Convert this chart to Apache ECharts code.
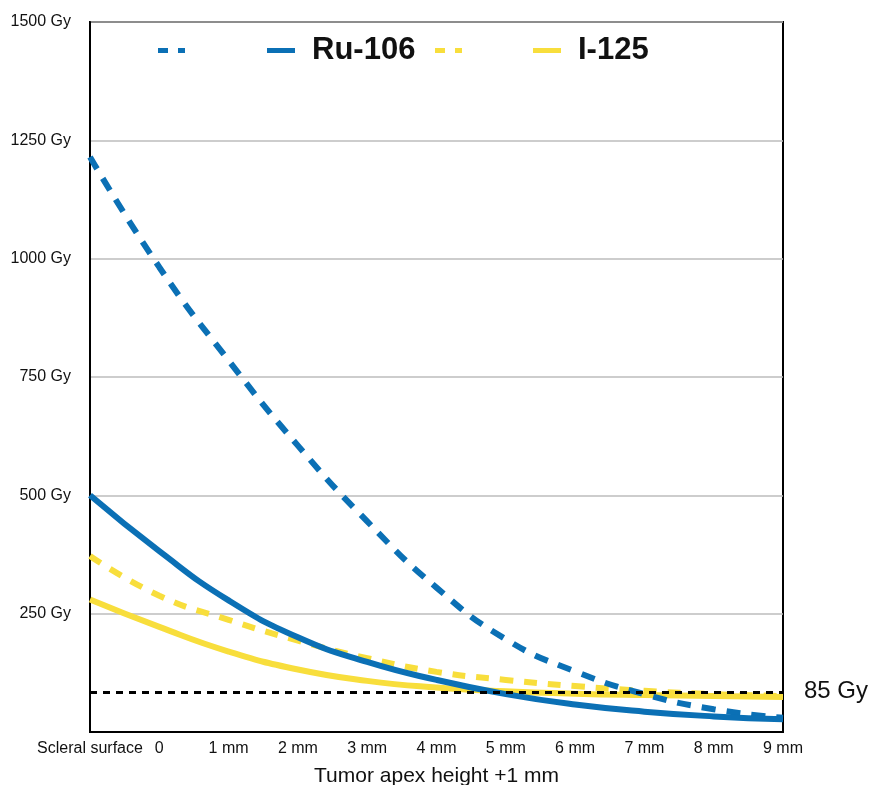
<!DOCTYPE html>
<html>
<head>
<meta charset="utf-8">
<script src="https://cdn.jsdelivr.net/npm/echarts@6/dist/echarts.min.js"></script>
<style>
  html, body { margin: 0; padding: 0; background: #fff; overflow: hidden; }
  #chart { width: 870px; height: 785px; }
</style>
</head>
<body>
<div id="chart"></div>
<script>
// ---- data ----
var xPositions = [0, 1, 2, 3, 4, 5, 6, 7, 8, 9, 10];
var xTickLabels = ['Scleral surface', '0', '1 mm', '2 mm', '3 mm', '4 mm', '5 mm', '6 mm', '7 mm', '8 mm', '9 mm'];
var ruDashed = [1215, 982, 785, 605, 445, 305, 196, 128, 80, 48, 30];
var ruSolid = [500, 382, 278, 200, 148, 110, 80, 58, 43, 33, 27];
var iDashed = [372, 288, 237, 193, 156, 127, 110, 97, 87, 80, 76];
var iSolid = [280, 222, 170, 132, 108, 94, 86, 81, 78, 76, 74];
var thresholdValue = 85;
var thresholdLabel = '85 Gy';
var seriesNames = ['Ru-106 dashed', 'Ru-106', 'I-125 dashed', 'I-125'];
var yUnit = ' Gy';
var xAxisTitle = 'Tumor apex height +1 mm';

function pairs(vals) { return xPositions.map(function (x, i) { return [x, vals[i]]; }); }

var BLUE = '#0B70B5';
var YELLOW = '#F8DE3C';
var FONT = '"Liberation Sans", Arial, Helvetica, sans-serif';
var dashIcon = 'path://M0,0H10V5H0Z M20,0H27V5H20Z';

var chart = echarts.init(document.getElementById('chart'), null, { renderer: 'canvas' });

function legendItem(name, left, icon, w, textVisible) {
  return {
    left: left, top: 35, padding: 0, orient: 'horizontal',
    data: [name], icon: icon, itemWidth: w, itemHeight: 5,
    selectedMode: false,
    formatter: function (n) { return textVisible ? n : ' '; },
    textStyle: { fontFamily: FONT, fontSize: 31, fontWeight: 'bold', color: '#111', padding: [0, 0, 0, 12] }
  };
}

var option = {
  backgroundColor: '#fff',
  animation: false,
  legend: [
    legendItem(seriesNames[0], 158, dashIcon, 27, false),
    legendItem(seriesNames[1], 267, 'rect', 28, true),
    legendItem(seriesNames[2], 435, dashIcon, 27, false),
    legendItem(seriesNames[3], 533, 'rect', 28, true)
  ],
  grid: { left: 90, right: 87, top: 22, bottom: 53, show: true, borderColor: '#000', borderWidth: 2,
          containLabel: false, outerBoundsMode: 'none' },
  xAxis: {
    type: 'value', min: 0, max: 10, interval: 1,
    name: xAxisTitle, nameLocation: 'middle', nameGap: 34,
    nameTextStyle: { fontFamily: FONT, fontSize: 21, color: '#111' },
    axisLine: { show: true, lineStyle: { color: '#000', width: 2 } },
    axisTick: { show: false },
    splitLine: { show: false },
    axisLabel: {
      fontFamily: FONT, fontSize: 16, color: '#111', margin: 9,
      formatter: function (v) { return xTickLabels[Math.round(v)]; }
    }
  },
  yAxis: {
    type: 'value', min: 0, max: 1500, interval: 250,
    axisLine: { show: true, lineStyle: { color: '#000', width: 2 } },
    axisTick: { show: false },
    splitLine: { show: true, lineStyle: { color: '#bdbdbd', width: 1.5 } },
    axisLabel: {
      fontFamily: FONT, fontSize: 16, color: '#111', margin: 19,
      formatter: function (v) { return v === 0 ? '' : v + yUnit; }
    }
  },
  series: [
    { name: seriesNames[0], type: 'line', data: pairs(ruDashed), smooth: true, showSymbol: false, symbol: 'none', color: BLUE,
      lineStyle: { color: BLUE, width: 6, type: [14, 11], cap: 'butt' }, z: 3 },
    { name: seriesNames[1], type: 'line', data: pairs(ruSolid), smooth: true, showSymbol: false, symbol: 'none', color: BLUE,
      lineStyle: { color: BLUE, width: 6 }, z: 3 },
    { name: seriesNames[2], type: 'line', data: pairs(iDashed), smooth: true, showSymbol: false, symbol: 'none', color: YELLOW,
      lineStyle: { color: YELLOW, width: 6, type: [13, 11], cap: 'butt' }, z: 2 },
    { name: seriesNames[3], type: 'line', data: pairs(iSolid), smooth: true, showSymbol: false, symbol: 'none', color: YELLOW,
      lineStyle: { color: YELLOW, width: 6 }, z: 2 },
    { name: 'threshold', type: 'line', data: [], z: 4,
      markLine: {
        silent: true, symbol: ['none', 'none'],
        lineStyle: { color: '#000', width: 3, type: [7, 6] },
        label: { show: true, position: 'end', distance: 21, formatter: thresholdLabel, fontFamily: FONT, fontSize: 24, color: '#111' },
        data: [{ yAxis: thresholdValue }]
      }
    }
  ]
};
chart.setOption(option);
</script>
</body>
</html>
